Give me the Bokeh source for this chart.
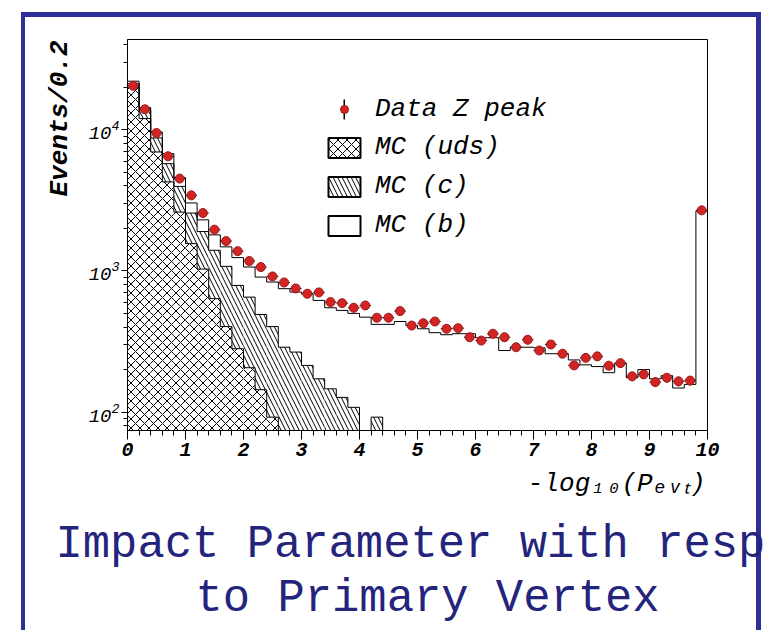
import numpy as np
from bokeh.plotting import figure
from bokeh.models import (Range1d, FixedTicker, Legend, LegendItem, Title)
from bokeh.embed import file_html
from bokeh.resources import INLINE

# ---------------- data ----------------
bin_width = 0.2
bin_edges = np.round(np.arange(0.0, 10.0 + 1e-9, bin_width), 1)

data_counts = [20500, 13970, 9490, 6490, 4510, 3430, 2570, 1960, 1627, 1380,
               1175, 1065, 914, 828, 751, 689, 704, 601, 591, 548,
               569, 466, 466, 519, 410, 426, 438, 389, 393, 339,
               321, 359, 339, 288, 325, 273, 301, 259, 214, 242,
               248, 213, 222, 179, 185, 163, 175, 165, 167, 2685]

mc_uds = [20000, 12000, 6960, 4270, 2610, 1560, 1030, 636, 403, 281,
          206, 144, 92, 0, 0, 0, 0, 0, 0, 0,
          0, 0, 0, 0, 0, 0, 0, 0, 0, 0,
          0, 0, 0, 0, 0, 0, 0, 0, 0, 0,
          0, 0, 0, 0, 0, 0, 0, 0, 0, 0]

mc_c = [1300, 1700, 1790, 1480, 1360, 1010, 870, 764, 674, 508,
        446, 347, 311, 288, 266, 214, 172, 146, 127, 108,
        40, 92, 0, 0, 0, 0, 0, 0, 0, 0,
        0, 0, 0, 0, 0, 0, 0, 0, 0, 0,
        0, 0, 0, 0, 0, 0, 0, 0, 0, 0]

mc_b = [780, 680, 900, 1030, 610, 460, 400, 400, 403, 453,
        413, 413, 431, 460, 442, 475, 446, 402, 398, 392,
        430, 326, 418, 438, 410, 389, 365, 353, 359, 359,
        336, 336, 273, 288, 288, 285, 259, 259, 234, 216,
        210, 190, 222, 175, 200, 172, 181, 148, 157, 2650]

legend_labels = ["Data Z peak", "MC (uds)", "MC (c)", "MC (b)"]
x_ticks = list(range(0, 11))
y_major_ticks = [100, 1000, 10000]
y_minor_ticks = [80, 90] + [k * 100 for k in range(2, 10)] + \
                [k * 1000 for k in range(2, 10)] + [20000, 30000, 40000]
y_title = "Events/0.2"
x_title = "-log\u2081\u2080(P\u2091\u1d65\u209c)"
title_lines = ["Impact Parameter with resp", "to Primary Vertex"]

# ---------------- layout constants (canvas pixels) ----------------
W, H = 780, 641
FL, FR, FT, FB = 127, 707, 39, 430
FONT = "Liberation Mono"
BLUE = "#2e2e98"
NAVY = "#24247c"
RED = "#d22424"

p = figure(width=W, height=H, x_range=Range1d(0, 10), y_range=Range1d(74, 43600),
           y_axis_type="log", output_backend="svg", toolbar_location=None,
           min_border_left=FL, min_border_right=W - FR,
           min_border_top=FT, min_border_bottom=H - FB)
p.background_fill_color = "white"
p.border_fill_color = None
p.grid.visible = False
p.outline_line_color = "black"
p.outline_line_width = 1
p.outline_line_alpha = 1

# slide frame (blue bars) drawn as CSS background behind the transparent border
p.styles = {
    "background-color": "white",
    "background-image": (f"linear-gradient({BLUE}, {BLUE}), linear-gradient({BLUE}, {BLUE}), "
                         f"linear-gradient({BLUE}, {BLUE})"),
    "background-size": "740px 5px, 4px 618px, 5px 618px",
    "background-position": "21px 12px, 21px 12px, 756px 12px",
    "background-repeat": "no-repeat",
}

# axes
xa = p.xaxis[0]
xa.ticker = FixedTicker(ticks=x_ticks, minor_ticks=[float(v) for v in bin_edges])
xa.major_tick_in = 0
xa.major_tick_out = 9
xa.minor_tick_in = 0
xa.minor_tick_out = 5
xa.axis_line_color = "black"
xa.major_tick_line_color = "black"
xa.minor_tick_line_color = "black"
xa.major_label_text_font = FONT
xa.major_label_text_font_style = "bold italic"
xa.major_label_text_font_size = "20px"
xa.major_label_text_color = "black"
xa.major_label_standoff = 3

ya = p.yaxis[0]
ya.ticker = FixedTicker(ticks=y_major_ticks, minor_ticks=y_minor_ticks)
ya.major_tick_in = 0
ya.major_tick_out = 6
ya.minor_tick_in = 0
ya.minor_tick_out = 4
ya.axis_line_color = "black"
ya.major_tick_line_color = "black"
ya.minor_tick_line_color = "black"
ya.major_label_text_font = FONT
ya.major_label_text_font_style = "italic"
ya.major_label_text_font_size = "19px"
ya.major_label_text_color = "black"
ya.major_label_standoff = 2

# ---------------- histograms ----------------
FLOOR = 1.0
left = bin_edges[:-1]
right = bin_edges[1:]
centers = (left + right) / 2.0
uds = np.array(mc_uds, dtype=float)
c = np.array(mc_c, dtype=float)
b = np.array(mc_b, dtype=float)
top_uds = uds
top_c = uds + c
top_b = uds + c + b


def fl(a):
    return np.maximum(a, FLOOR)


p.quad(left=left, right=right, bottom=FLOOR, top=fl(top_uds), fill_color="white",
       line_color=None, hatch_pattern="x", hatch_scale=9, hatch_color="black", hatch_weight=1)
p.quad(left=left, right=right, bottom=fl(top_uds), top=fl(top_c), fill_color="white",
       line_color=None, hatch_pattern="\\", hatch_scale=9, hatch_color="black", hatch_weight=1)


def outline(vals):
    xs = [float(bin_edges[0])]
    ys = [FLOOR]
    for i, v in enumerate(vals):
        xs += [float(bin_edges[i]), float(bin_edges[i + 1])]
        ys += [max(float(v), FLOOR)] * 2
    xs.append(float(bin_edges[-1]))
    ys.append(FLOOR)
    return xs, ys


for arr in (top_b, top_c, top_uds):
    xs, ys = outline(arr)
    p.line(xs, ys, line_color="black", line_width=1)

# data points with error bars
d = np.array(data_counts, dtype=float)
err = np.sqrt(d)
p.segment(x0=left, x1=right, y0=d, y1=d, line_color="black", line_width=1)
p.segment(x0=centers, x1=centers, y0=d - err, y1=d + err, line_color="black", line_width=1)
p.scatter(centers, d, size=9, fill_color=RED, line_color="#a01818", line_width=1)

# ---------------- legend (glyph-only proxies, NaN data => nothing drawn in plot) ----------------
NAN = [float("nan")]
bar_proxy = p.line(x=NAN, y=NAN, line_color="black", line_width=20, line_cap="butt")
dot_proxy = p.scatter(x=NAN, y=NAN, size=9, fill_color=RED, line_color="#a01818")
uds_proxy = p.quad(left=NAN, right=NAN, top=NAN, bottom=NAN, fill_color="white", hatch_pattern="x",
                   hatch_scale=9, hatch_color="black", line_color="black", line_width=2)
c_proxy = p.quad(left=NAN, right=NAN, top=NAN, bottom=NAN, fill_color="white", hatch_pattern="\\",
                 hatch_scale=9, hatch_color="black", line_color="black", line_width=2)
b_proxy = p.quad(left=NAN, right=NAN, top=NAN, bottom=NAN, fill_color="white",
                 line_color="black", line_width=2)

common = dict(label_text_font=FONT, label_text_font_style="italic", label_text_font_size="26px",
              label_text_color="black", background_fill_alpha=0, border_line_alpha=0,
              padding=0, margin=0, label_height=30)


def loc(px_left, py_bottom):
    return (px_left - FL, FB - py_bottom)


leg_mc = Legend(items=[LegendItem(label=legend_labels[1], renderers=[uds_proxy]),
                       LegendItem(label=legend_labels[2], renderers=[c_proxy]),
                       LegendItem(label=legend_labels[3], renderers=[b_proxy])],
                location=loc(324, 240), glyph_width=40, glyph_height=25, spacing=9,
                label_standoff=11, **common)
leg_bar = Legend(items=[LegendItem(label=legend_labels[0], renderers=[bar_proxy])],
                 location=loc(343, 123.5), glyph_width=2, glyph_height=30,
                 label_standoff=30, **common)
leg_dot = Legend(items=[LegendItem(label=" ", renderers=[dot_proxy])],
                 location=loc(334, 123.5), glyph_width=20, glyph_height=30,
                 label_standoff=0, **common)
for lg in (leg_mc, leg_bar, leg_dot):
    p.add_layout(lg)

# ---------------- titles in the side panels ----------------
t_y = Title(text=y_title, align="right", offset=1, standoff=22, vertical_align="bottom",
            text_font=FONT, text_font_size="26px", text_font_style="bold italic",
            text_color="black")
p.add_layout(t_y, "left")

t_x = Title(text=x_title, align="right", offset=2, standoff=16, vertical_align="bottom",
            text_font=FONT, text_font_size="26px", text_font_style="italic",
            text_color="black")
p.add_layout(t_x, "below")

t1 = Title(text=title_lines[0], align="left", offset=55 - FL, standoff=20, vertical_align="bottom",
           text_font=FONT, text_font_size="45.5px", text_font_style="normal", text_color=NAVY)
p.add_layout(t1, "below")
t2 = Title(text=title_lines[1], align="left", offset=195 - FL, standoff=-20, vertical_align="bottom",
           text_font=FONT, text_font_size="45.5px", text_font_style="normal", text_color=NAVY)
p.add_layout(t2, "below")

open("out.html", "w").write(file_html(p, INLINE))
